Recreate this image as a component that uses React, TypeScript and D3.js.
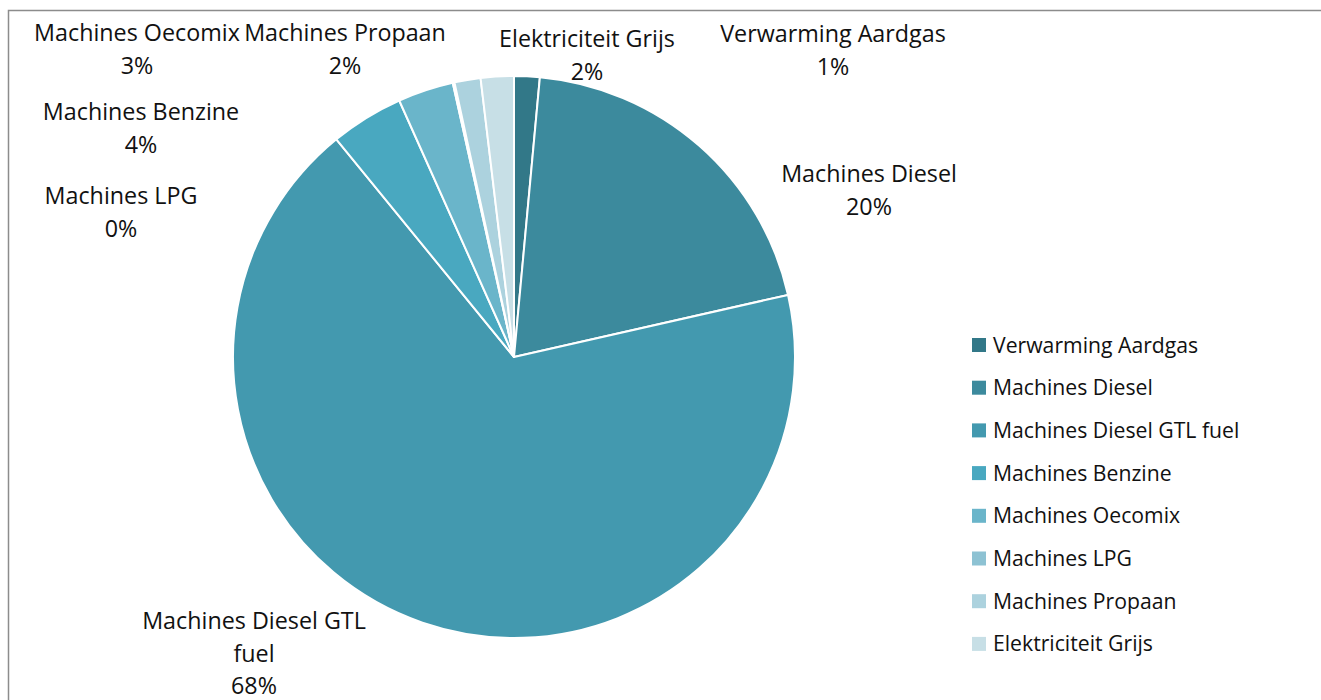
import React from 'react';
import * as d3 from 'd3';

// categories in drawing order (clockwise from 12 o'clock)
const categories = [
  'Verwarming Aardgas',
  'Machines Diesel',
  'Machines Diesel GTL fuel',
  'Machines Benzine',
  'Machines Oecomix',
  'Machines LPG',
  'Machines Propaan',
  'Elektriciteit Grijs',
];
const shares = [1.47, 20.0, 67.7, 4.2, 3.2, 0.1, 1.5, 1.9];
const pctLabels = ['1%', '20%', '68%', '4%', '3%', '0%', '2%', '2%'];
const colors = ['#327888', '#3c8a9d', '#4399af', '#49a8c0', '#6ab5ca', '#8dc2d3', '#acd2de', '#c7dfe6'];

// data label layout (Excel "best fit"): centre x, first baseline y, lines
const labelLayout = [
  { x: 833, y: 42, lines: ['Verwarming Aardgas'] },
  { x: 869, y: 182, lines: ['Machines Diesel'] },
  { x: 254, y: 629, lines: ['Machines Diesel GTL', 'fuel'] },
  { x: 141, y: 120, lines: ['Machines Benzine'] },
  { x: 137, y: 41, lines: ['Machines Oecomix'] },
  { x: 121, y: 204, lines: ['Machines LPG'] },
  { x: 345, y: 41, lines: ['Machines Propaan'] },
  { x: 587, y: 47, lines: ['Elektriciteit Grijs'] },
];

const W = 1321;
const H = 700;
const cx = 514;
const cy = 357;
const R = 281;
const FONT = '"Open Sans", Lato, sans-serif';

const App: React.FC = () => {
  const pie = d3.pie<number>().sort(null).value(d => d);
  const arcs = pie(shares);
  const arc = d3.arc<d3.PieArcDatum<number>>().innerRadius(0).outerRadius(R);

  const legendX = 972;
  const legendY = 345;
  const legendStep = 42.7;

  return (
    <svg width={W} height={H} style={{ position: 'absolute', left: 0, top: 0, background: '#fff' }}>
      <rect x={8.5} y={10.5} width={W + 20} height={H + 20} fill="#fff" stroke="#8c8c8c" strokeWidth={1.5} />

      <g transform={`translate(${cx},${cy})`}>
        {arcs.map((a, i) => (
          <path key={i} d={arc(a) || ''} fill={colors[i]} stroke="#fff" strokeWidth={2} strokeLinejoin="round" />
        ))}
      </g>

      {labelLayout.map((l, i) => (
        <text key={i} x={l.x} textAnchor="middle" fontFamily={FONT} fontSize={23.3} fill="#111">
          {[...l.lines, pctLabels[i]].map((t, j) => (
            <tspan key={j} x={l.x} y={l.y + j * 32.7}>{t}</tspan>
          ))}
        </text>
      ))}

      <g>
        {categories.map((c, i) => (
          <g key={c} transform={`translate(${legendX},${legendY + i * legendStep})`}>
            <rect x={0} y={-7} width={14} height={14} fill={colors[i]} />
            <text x={21} y={7.5} fontFamily={FONT} fontSize={21.2} fill="#111">{c}</text>
          </g>
        ))}
      </g>
    </svg>
  );
};

export default App;
